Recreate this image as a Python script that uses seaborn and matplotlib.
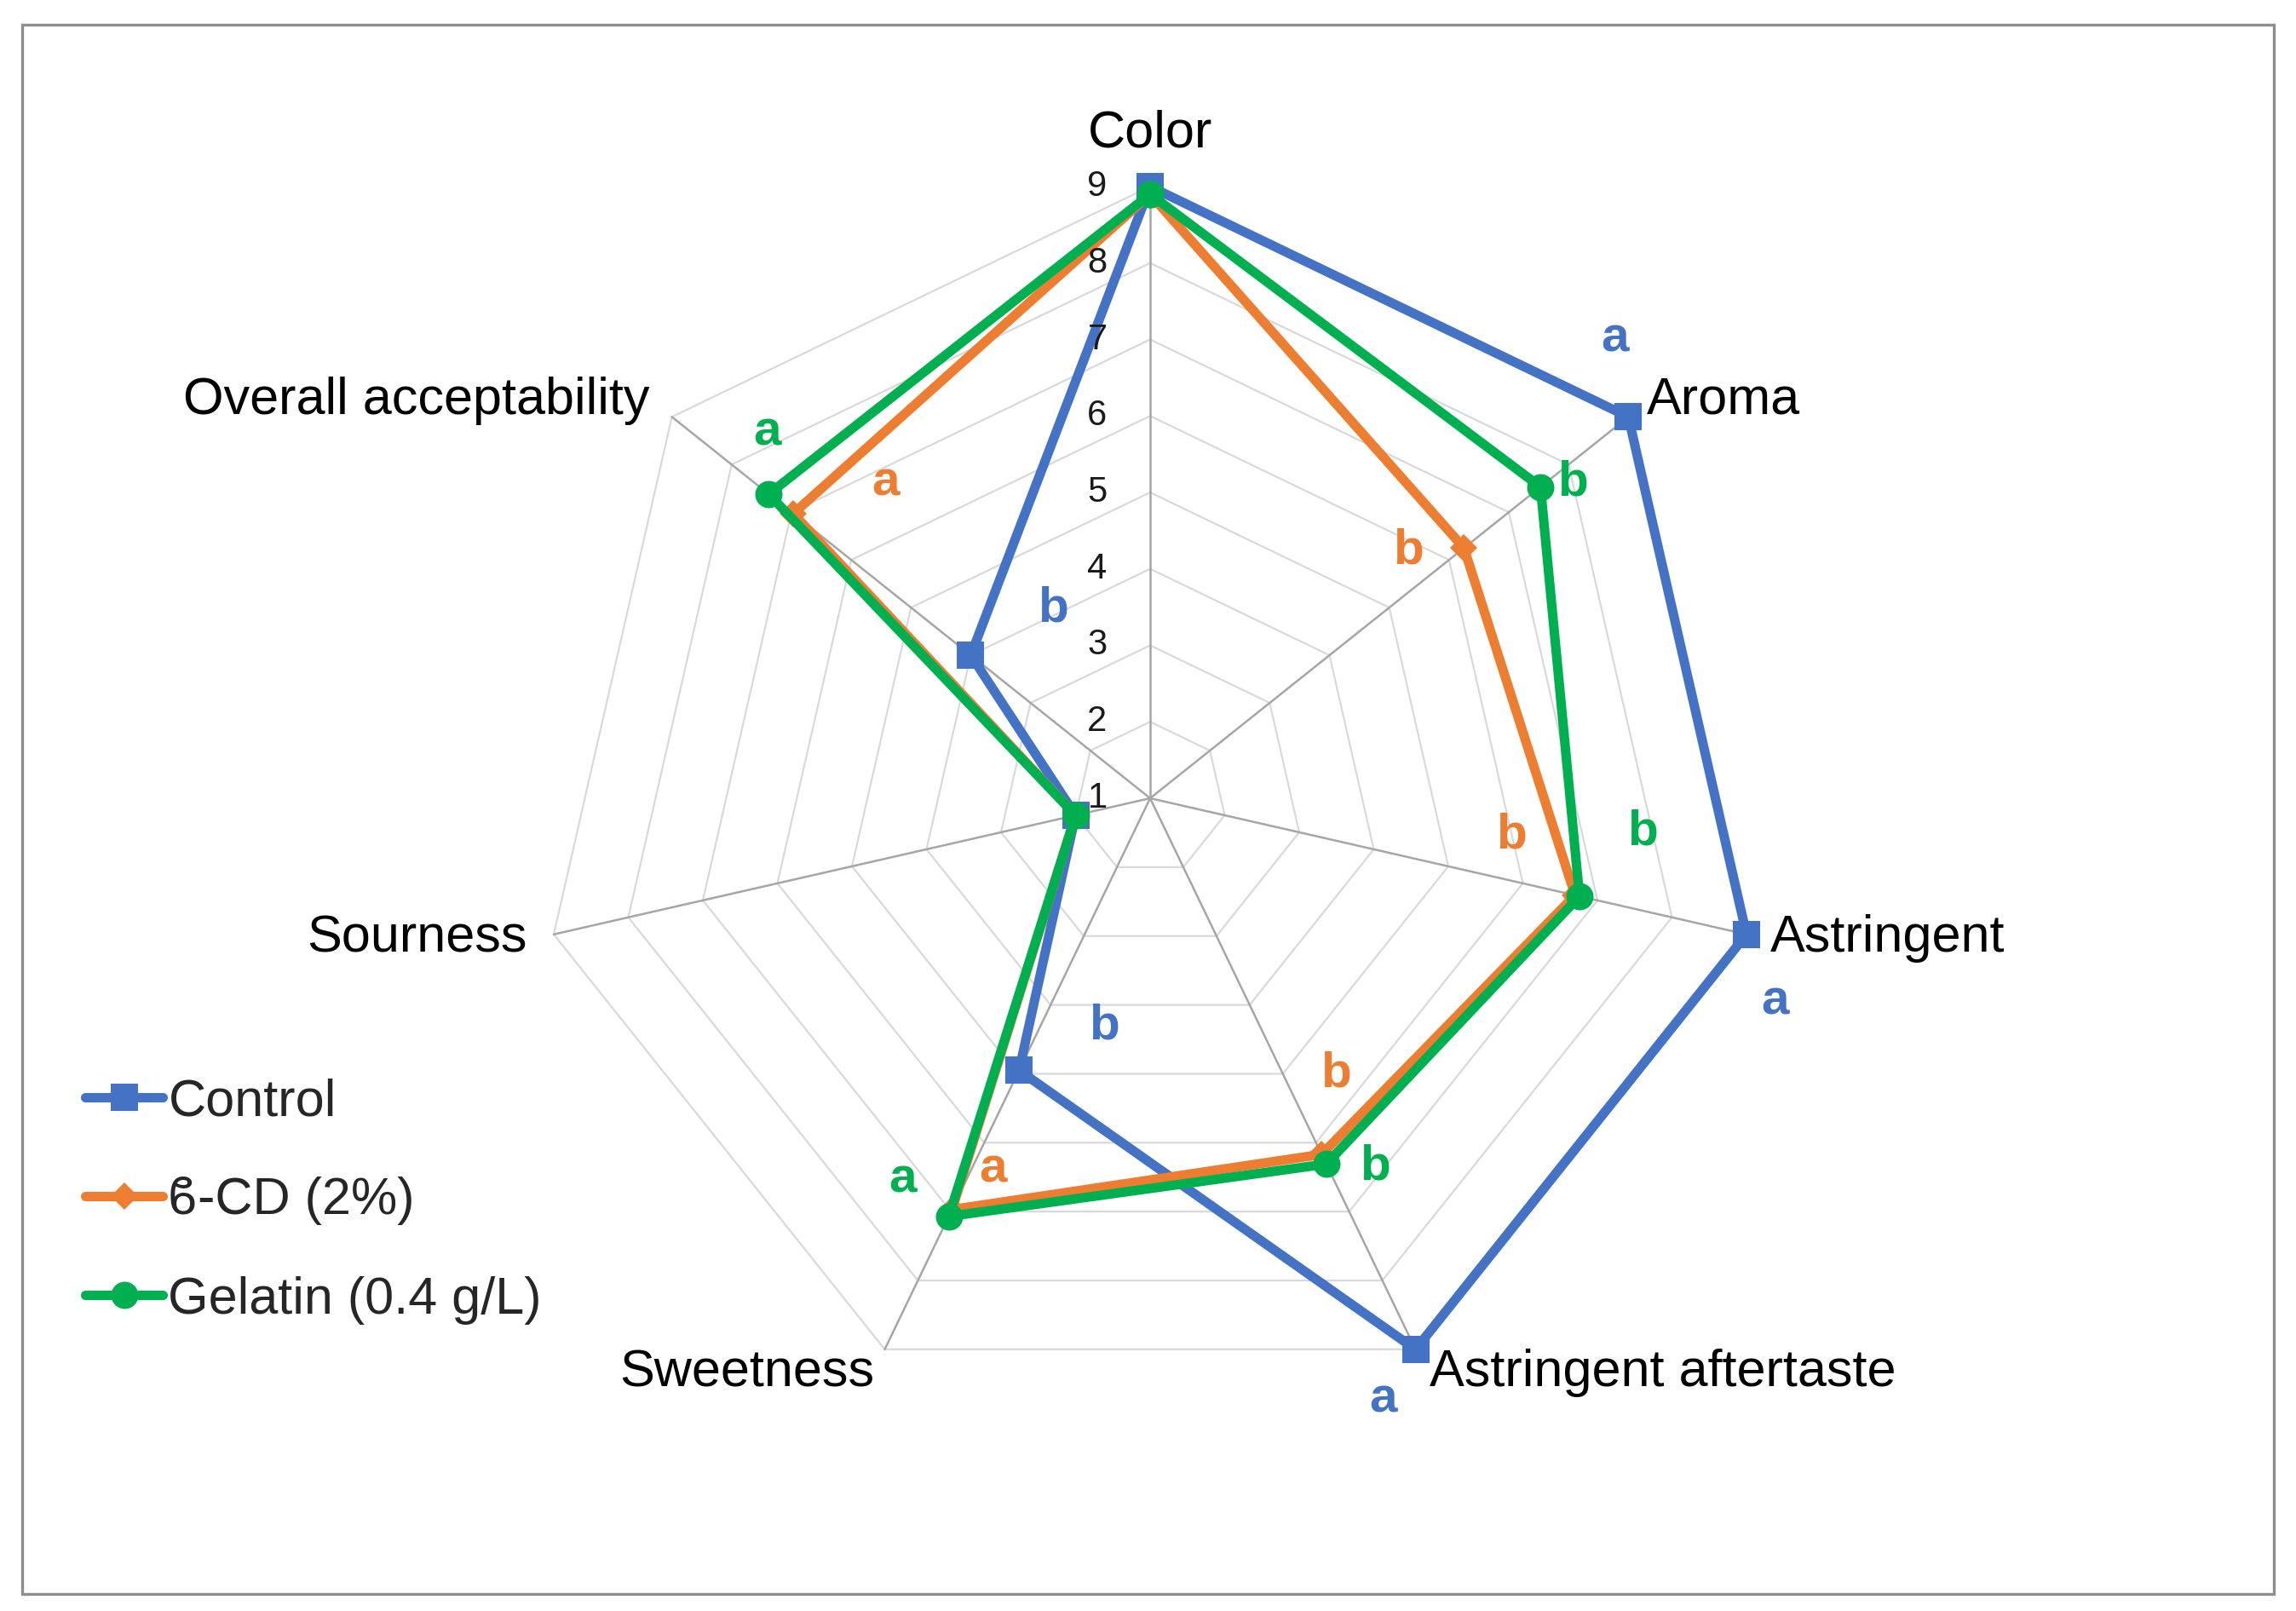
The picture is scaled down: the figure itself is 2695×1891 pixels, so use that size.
import numpy as np
import pandas as pd
import matplotlib
matplotlib.use("Agg")
import matplotlib.pyplot as plt
from matplotlib.lines import Line2D
from matplotlib.patches import Rectangle
import seaborn as sns

# sensory scores (1-9 hedonic scale)
categories = ["Color", "Aroma", "Astringent", "Astringent aftertaste",
              "Sweetness", "Sourness", "Overall acceptability"]
control = [9.0, 9.0, 9.0, 9.0, 4.95, 2.0, 4.0]
beta_cd = [8.9, 6.25, 6.7, 6.17, 6.97, 2.0, 6.97]
gelatin = [8.9, 7.53, 6.76, 6.31, 7.07, 2.0, 7.38]

# significance letters
control_letters = ["", "a", "a", "a", "b", "", "b"]
beta_letters = ["", "b", "b", "b", "a", "", "a"]
gelatin_letters = ["", "b", "b", "b", "a", "", "a"]

series_names = ["Control", "\u03d0-CD (2%)", "Gelatin (0.4 g/L)"]
colors = ["#4472C4", "#ED7D31", "#00B050"]
markers = ["s", "D", "o"]
msizes = [11.5, 8, 11.5]

sns.set_theme(style="white")
plt.rcParams["font.family"] = ["Liberation Sans", "DejaVu Sans"]

n = len(categories)
angles = np.linspace(0, 2 * np.pi, n, endpoint=False)
closed = np.append(angles, 2 * np.pi)

rows = []
for name, vals in zip(series_names, [control, beta_cd, gelatin]):
    for i, t in enumerate(closed):
        rows.append({"sample": name, "theta": t, "score": vals[i % n]})
df = pd.DataFrame(rows)

fig = plt.figure(figsize=(13.475, 9.455), dpi=200)
cx, cy = 1350 / 2695, 1 - 937 / 1891
rw, rh = 718 / 2695, 718 / 1891
ax = fig.add_axes([cx - rw, cy - rh, 2 * rw, 2 * rh], projection="polar")
ax.set_theta_zero_location("N")
ax.set_theta_direction(-1)
ax.grid(False)
ax.spines["polar"].set_visible(False)
ax.patch.set_alpha(0)

# polygon grid + spokes
for r in range(2, 10):
    ax.plot(closed, [r] * (n + 1), color="#d9d9d9", lw=0.8, zorder=1, clip_on=False)
for t in angles:
    ax.plot([t, t], [1, 9], color="#a6a6a6", lw=0.9, zorder=1.2, clip_on=False)

for name, c, m, ms in zip(series_names, colors, markers, msizes):
    sns.lineplot(data=df[df["sample"] == name], x="theta", y="score",
                 sort=False, estimator=None, color=c, marker=m, markersize=ms,
                 markeredgewidth=0, linewidth=4.0, solid_joinstyle="round",
                 clip_on=False, ax=ax, legend=False, zorder=3)

ax.set_ylim(1, 9)
ax.set_xticks([])
ax.set_yticks([])
ax.set_xlabel("")
ax.set_ylabel("")

# radial tick labels
for k in range(1, 10):
    ax.annotate(str(k), xy=(0, k), xytext=(-62, 0), textcoords="offset pixels",
                ha="center", va="center", fontsize=15, color="#1a1a1a")

# category labels
label_pos = [((0, 62), "center"), ((22, 19), "left"), ((28, -5), "left"),
             ((16, -28), "left"), ((-12, -28), "right"), ((-31, -5), "right"),
             ((-26, 19), "right")]
for t, lab, (off, ha) in zip(angles, categories, label_pos):
    ax.annotate(lab, xy=(t, 9), xytext=off, textcoords="offset pixels",
                ha=ha, va="center", fontsize=22, color="black")

# significance letters
offsets = {
    0: [None, (-16, 92), (34, -79), (-38, -59), (100, 52), None, (96, 55)],
    1: [None, (-65, -3), (-75, 70), (17, 95), (48, 47), None, (108, 36)],
    2: [None, (38, 5), (74, 76), (57, -3), (-54, 43), None, (-2, 72)],
}
for si, (vals, letters) in enumerate(zip([control, beta_cd, gelatin],
                                         [control_letters, beta_letters, gelatin_letters])):
    for i, (t, v, lt) in enumerate(zip(angles, vals, letters)):
        if not lt:
            continue
        ax.annotate(lt, xy=(t, v), xytext=offsets[si][i], textcoords="offset pixels",
                    ha="center", va="center", fontsize=21, fontweight="bold",
                    color=colors[si], zorder=5)

handles = [Line2D([], [], color=c, marker=m, markersize=ms, markeredgewidth=0, lw=4.0)
           for c, m, ms in zip(colors, markers, msizes)]
fig.legend(handles, series_names, loc="upper left", bbox_to_anchor=(0.037, 0.331),
           frameon=False, fontsize=22, handlelength=1.5, handletextpad=0.1,
           labelspacing=0.97, borderpad=0, borderaxespad=0)

# outer frame
fig.patches.append(Rectangle((26 / 2695, 20 / 1891), (2669 - 26) / 2695, (1871 - 29) / 1891,
                             transform=fig.transFigure, fill=False,
                             edgecolor="#8e8e8e", lw=1.2))

fig.savefig("out.png", dpi=200)
